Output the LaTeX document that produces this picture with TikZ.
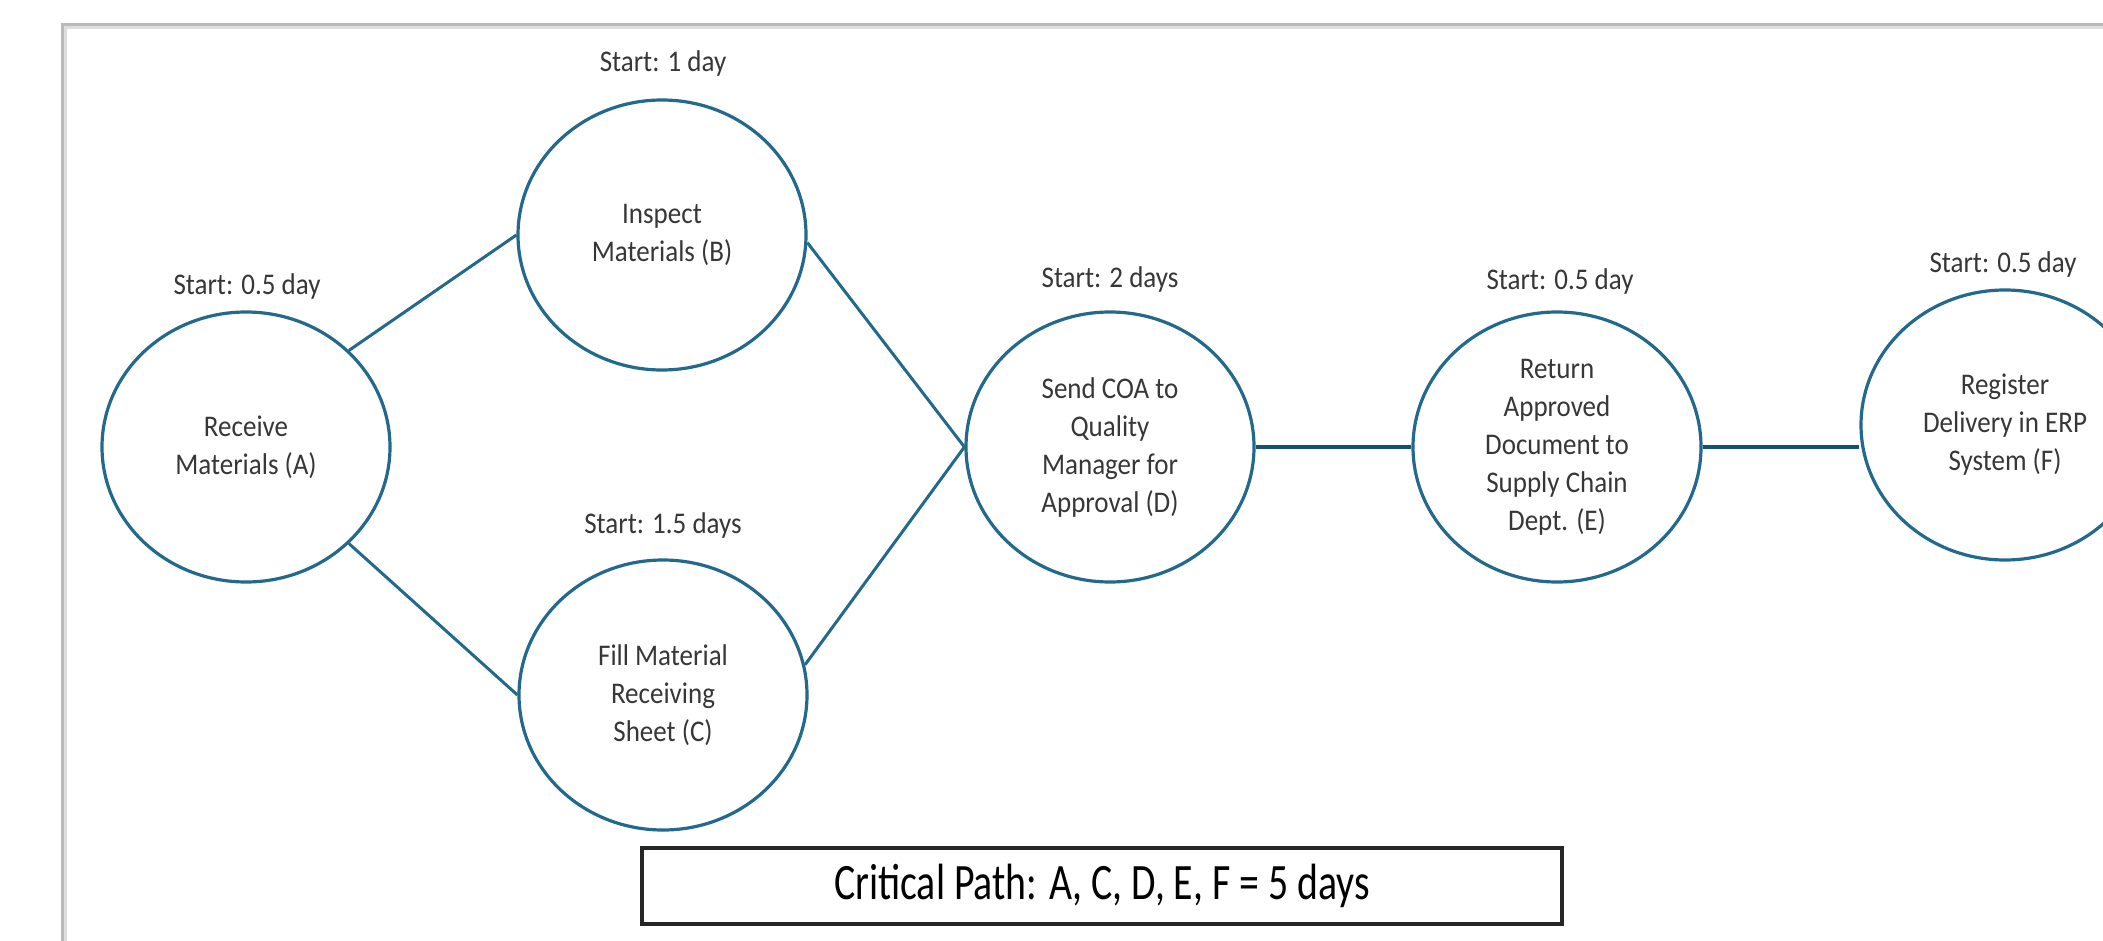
\documentclass[tikz,border=0pt]{standalone}
\usepackage{fontspec}
\setmainfont{Carlito}[FakeStretch=0.9]
\newfontfamily\cpfont{Carlito}[FakeStretch=0.78]
\usetikzlibrary{shapes.geometric}
\definecolor{nodeblue}{RGB}{35,105,140}
\definecolor{pathblue}{RGB}{22,80,115}
\definecolor{framegray}{RGB}{185,185,185}
\definecolor{framelight}{RGB}{222,222,222}
\definecolor{txt}{RGB}{55,55,55}
\begin{document}
\begin{tikzpicture}[x=0.5pt,y=-0.5pt,
  task/.style={ellipse, draw=nodeblue, line width=1.6pt, minimum width=144pt,
    minimum height=135pt, inner sep=0pt, align=center, text=txt,
    font=\fontsize{15pt}{19pt}\selectfont},
  startlbl/.style={inner sep=0pt, text=txt, font=\fontsize{15pt}{18pt}\selectfont},
  link/.style={draw=nodeblue, line width=1.5pt},
  critlink/.style={draw=pathblue, line width=2pt},
  critbox/.style={draw=black!85, line width=2.25pt, minimum width=460pt,
    minimum height=38pt, inner sep=0pt, text=black,
    font=\cpfont\fontsize{25.5pt}{28pt}\selectfont}
]
\useasboundingbox (0,0) rectangle (2103,941);
\begin{scope}
\clip (0,0) rectangle (2103,941);
\fill[white] (0,0) rectangle (2103,941);
% outer frame (only top and left edges visible)
\draw[framelight, line width=1.5pt] (65,960) -- (65,28) -- (2120,28);
\draw[framegray, line width=1.5pt] (62,960) -- (62,25) -- (2120,25);

% activity nodes
\node[task] (A) at (246,447) {Receive\\Materials (A)};
\node[task] (B) at (662,235) {Inspect\\Materials (B)};
\node[task] (C) at (663,695) {Fill Material\\Receiving\\Sheet (C)};
\node[task] (D) at (1110,447) {Send COA to\\Quality\\Manager for\\Approval (D)};
\node[task] (E) at (1557,447) {Return\\Approved\\Document to\\Supply Chain\\Dept. (E)};
\node[task] (F) at (2005,425) {Register\\Delivery in ERP\\System (F)};

% start labels
\node[startlbl] (sA) at (247,287) {Start: 0.5 day};
\node[startlbl] (sB) at (663,64) {Start: 1 day};
\node[startlbl] (sC) at (663,525) {Start: 1.5 days};
\node[startlbl] (sD) at (1110,280) {Start: 2 days};
\node[startlbl] (sE) at (1560,282) {Start: 0.5 day};
\node[startlbl] (sF) at (2003,265) {Start: 0.5 day};

% connectors
\draw[link] (A.north east) -- (B.west);
\draw[link] (A.south east) -- (C.west);
\draw[link] (B.-3) -- (D.west);
\draw[link] (C.12) -- (D.west);
\draw[critlink] (D.east) -- (E.west);
\draw[critlink] (E.east) -- (E.east -| F.west);

% critical path box
\node[critbox] (CP) at (1102,886) {Critical Path: A, C, D, E, F = 5 days};
\end{scope}
\end{tikzpicture}
\end{document}
